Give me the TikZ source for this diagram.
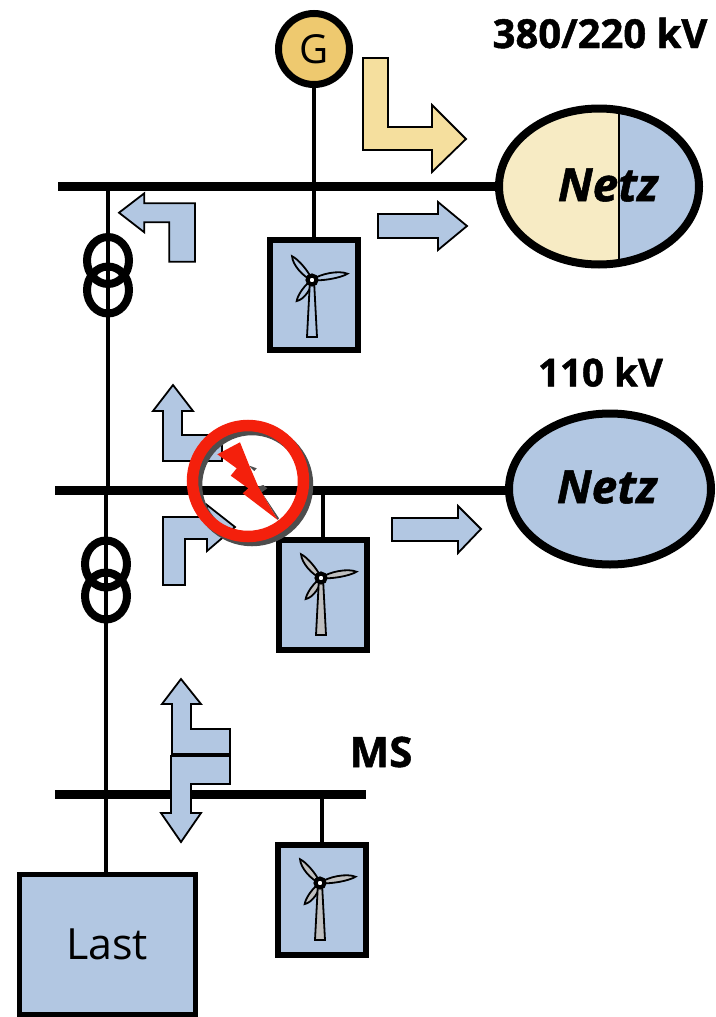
\documentclass[tikz,border=0pt]{standalone}
\usepackage{fontspec}
\usetikzlibrary{shapes.geometric}
\setmainfont{Open Sans}[BoldFeatures={FakeBold=1.2},BoldItalicFeatures={FakeBold=1.2}]
\definecolor{netzblue}{HTML}{B2C7E2}
\definecolor{netztan}{HTML}{F7EBC4}
\definecolor{gengold}{HTML}{EEC96F}
\definecolor{arrowtan}{HTML}{F5DF9E}
\definecolor{boltred}{HTML}{F4200C}
\definecolor{shadowgrey}{HTML}{4D4D4D}
\begin{document}
\begin{tikzpicture}[x=1pt,y=-1pt,
  busbar/.style={line width=9pt},
  feeder/.style={line width=4.5pt},
  thinfeeder/.style={line width=3.2pt},
  flowarrow/.style={draw=black,line width=1.8pt,fill=netzblue,line join=miter},
  flowtan/.style={draw=black,line width=1.8pt,fill=arrowtan,line join=miter},
  turbinebox/.style={draw=black,line width=6pt,fill=netzblue,minimum width=88pt,minimum height=110pt,inner sep=0pt,outer sep=0pt},
  xformer/.style={ellipse,draw=black,line width=8pt,minimum width=42pt,minimum height=47pt,inner sep=0pt,outer sep=0pt},
  volt/.style={font=\bfseries\fontsize{#1}{#1}\selectfont,inner sep=0pt},
  netzlabel/.style={font=\bfseries\itshape\fontsize{46}{46}\selectfont,inner sep=0pt},
  pics/turbine/.style={code={
    \foreach \a/\l in {130/31,10/36,234/26}{
      \draw[line width=1.8pt,fill=#1,rotate=\a] (0,0) .. controls (\l*0.25,-5) and (\l*0.8,-5) .. (\l,0) .. controls (\l*0.8,3) and (\l*0.25,3) .. (0,0) -- cycle;
    }
    \draw[line width=1.8pt,fill=#1] (-2,0) -- (2,0) -- (5,57) -- (-5,57) -- cycle;
    \draw[line width=4pt,fill=white] (0,0) circle (4.5);
  }}
]
\useasboundingbox (0,0) rectangle (715,1017);

% coordinates on the busbars
\coordinate (busA-l) at (58,186);
\coordinate (busA-r) at (510,186);
\coordinate (busB-l) at (55,490);
\coordinate (busB-r) at (520,490);
\coordinate (busC-l) at (55,794);
\coordinate (busC-r) at (366,794);
\coordinate (tapA) at (108,186);
\coordinate (tapB) at (108,490);
\coordinate (tapB2) at (106,490);
\coordinate (tapW2) at (323,490);
\coordinate (tapW3) at (322,794);
\coordinate (lastTop) at (106,875);

% nodes
\node[circle,draw=black,line width=7pt,fill=gengold,minimum size=71pt,inner sep=0pt,outer sep=0pt,font=\fontsize{40}{40}\selectfont] (gen) at (314,49) {G};
\node[turbinebox] (windA) at (314,295) {};
\node[turbinebox] (windB) at (323,594.5) {};
\node[turbinebox] (windC) at (322,899.5) {};
\node[draw=black,line width=5pt,fill=netzblue,minimum width=176pt,minimum height=140pt,inner sep=0pt,outer sep=0pt,font=\fontsize{43}{43}\selectfont] (last) at (107,944.5) {Last};

% wiring
\draw[feeder] (gen) -- (windA);
\draw[feeder] (tapA) -- (tapB);
\draw[feeder] (tapB2) -- (lastTop);
\draw[thinfeeder] (tapW2) -- (windB);
\draw[thinfeeder] (tapW3) -- (windC);

% transformers
\node[xformer] (trA1) at (108,260.5) {};
\node[xformer] (trA2) at (108,290) {};
\node[xformer] (trB1) at (106,564) {};
\node[xformer] (trB2) at (106,596) {};

% busbars
\draw[busbar] (busA-l) -- (busA-r);
\draw[busbar] (busB-l) -- (busB-r);
\draw[busbar] (busC-l) -- (busC-r);

% network ovals
\begin{scope}
  \clip (599,186.5) ellipse [x radius=100, y radius=78];
  \fill[netztan] (490,90) rectangle (619,280);
  \fill[netzblue] (619,90) rectangle (710,280);
  \draw[line width=1.2pt] (619,100) -- (619,270);
\end{scope}
\draw[black,line width=8pt] (599,186.5) ellipse [x radius=100, y radius=78];
\node[netzlabel] (netzAtext) at (608,185) {Netz};
\draw[black,line width=8pt,fill=netzblue] (610,489) ellipse [x radius=101, y radius=75.5];
\node[netzlabel] (netzBtext) at (607,487) {Netz};

% flow arrows
\draw[flowtan] (363,58) -- (388,58) -- (388,127) -- (432,127) -- (432,105) -- (466,139) -- (432,172) -- (432,150) -- (363,150) -- cycle;
\draw[flowarrow] (378,214) -- (438,214) -- (438,202) -- (467,226) -- (438,250) -- (438,238) -- (378,238) -- cycle;
\draw[flowarrow] (392,518) -- (458,518) -- (458,506) -- (481,529) -- (458,553) -- (458,541) -- (392,541) -- cycle;
\draw[flowarrow] (119,212.7) -- (144.3,193.3) -- (144.3,203.3) -- (195,203.3) -- (195,261.7) -- (169.3,261.7) -- (169.3,222.3) -- (144.3,222.3) -- (144.3,232.3) -- cycle;
\draw[flowarrow] (173,385) -- (193,411) -- (182,411) -- (182,435) -- (222,435) -- (222,461) -- (163,461) -- (163,411) -- (153,411) -- cycle;
\draw[flowarrow] (163,517) -- (207,517) -- (207,505) -- (235,527) -- (207,551) -- (207,539) -- (185,539) -- (185,585) -- (163,585) -- cycle;
\draw[flowarrow] (181,679) -- (201,704) -- (191,704) -- (191,729) -- (230,729) -- (230,754) -- (172,754) -- (172,704) -- (162,704) -- cycle;
\draw[flowarrow] (171,756) -- (230,756) -- (230,784) -- (191,784) -- (191,813) -- (201,813) -- (181,842) -- (161,813) -- (171,813) -- cycle;

% turbines
\pic at (312,280) {turbine={netzblue}};
\pic at (321,578) {turbine={black!25}};
\pic at (320,883) {turbine={black!25}};

% fault symbol
\draw[shadowgrey,line width=11.5pt] (252,485) circle (55.5);
\fill[shadowgrey] (249.3,465.7) -- (256.7,468.3) -- (254.3,471) -- (251,468) -- cycle;
\fill[shadowgrey] (258.3,486.7) -- (263.3,485) -- (267.3,488.3) -- (261.7,492.3) -- (279,518.3) -- (277.7,520) -- cycle;
\fill[boltred] (217.3,454.3) -- (240,442.3) -- (250,467.3) -- (258.3,486.7) -- (277.7,520) -- (242.7,493.3) -- (248.3,488.3) -- (230.7,475.7) -- (236.7,468.3) -- cycle;
\draw[boltred,line width=11.5pt] (248,481) circle (55.5);

% voltage labels
\node[volt=40] (lvlA) at (600,33) {380/220 kV};
\node[volt=38.5] (lvlB) at (600.5,372) {110 kV};
\node[volt=42] (lvlC) at (381,752) {MS};
\end{tikzpicture}
\end{document}
